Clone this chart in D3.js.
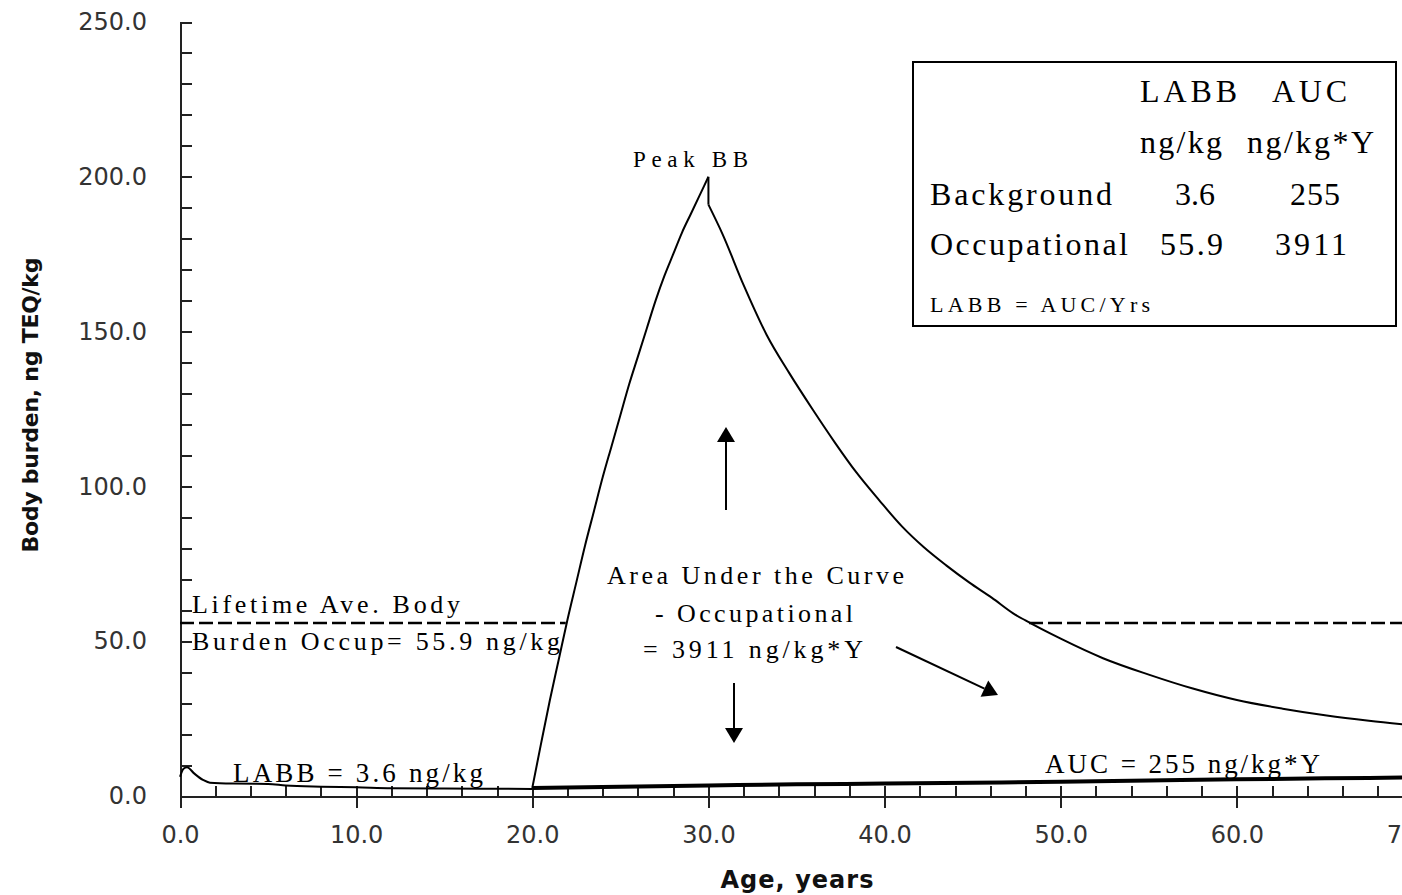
<!DOCTYPE html>
<html>
<head>
<meta charset="utf-8">
<script src="https://cdnjs.cloudflare.com/ajax/libs/d3/7.8.5/d3.min.js"></script>
<style>
  body { margin: 0; background: #fff; }
  .tick-label { font-family: "DejaVu Sans", sans-serif; font-size: 24px; fill: #333; }
  .axis-title { font-family: "DejaVu Sans", sans-serif; font-weight: bold; fill: #111; }
  .note { font-family: "Liberation Serif", serif; fill: #000; }
</style>
</head>
<body>
<div id="chart"></div>
<script>
'use strict';

// values
var ageTicks = [0, 10, 20, 30, 40, 50, 60, 70];
var burdenTicks = [0, 50, 100, 150, 200, 250];

var bgAge = [0, 0.2, 0.4, 0.8, 1.3, 1.7, 3, 5, 6, 8, 10, 12, 15, 20];
var bgBB = [6.2, 8.8, 9.3, 7.3, 5.2, 4.3, 4.0, 3.9, 3.4, 3.0, 2.8, 2.5, 2.4, 2.3];

var bgLateAge = [20, 25, 30, 35, 40, 45, 50, 55, 60, 65, 70];
var bgLateBB = [2.6, 3.0, 3.4, 3.8, 4.0, 4.3, 4.6, 5.0, 5.4, 5.7, 6.0];

// occupational exposure, age 20-30, then elimination
var occRiseAge = [20, 20.5, 21, 21.5, 22, 22.5, 23, 23.5, 24, 24.5, 25, 25.5, 26, 26.5, 27, 27.5, 28, 28.5, 29, 29.5, 30];
var occRiseBB = [2.6, 17, 31, 44, 57, 69, 81, 92, 103, 113, 123, 133, 142, 151, 160, 168, 175, 182, 188, 194, 200];
var occFallAge = [30, 30.8, 32, 33.3, 34.6, 35.9, 37.2, 38.4, 39.7, 41, 42.2, 43.5, 44.8, 46.1, 47.3, 48,
                  50, 52.4, 55, 57.5, 60, 62.6, 65.1, 67.5, 70];
var occFallBB = [191, 181.5, 165, 149, 136.5, 125, 114, 104.5, 95.5, 87, 80.5, 74.5, 69, 64, 59, 56.7,
                 50.8, 44.5, 39.2, 34.7, 31, 28.2, 26, 24.3, 22.8];

var labbOccup = 55.9;
var labbOccupAges = [[0, 21.9], [48.2, 70]];   // where the dashed line shows

var tableRows = ['Background', 'Occupational'];
var labbValues = ['3.6', '55.9'];
var aucValues = ['255', '3911'];

var width = 1402;
var height = 895;

var svg = d3.select('#chart')
    .append('svg')
    .attr('width', width)
    .attr('height', height);

var x = d3.scaleLinear().domain([0, 70]).range([180, 1413]);
var y = d3.scaleLinear().domain([0, 250]).range([796, 22]);

// ---- axes
var xAxis = svg.append('g')
    .attr('transform', 'translate(0,' + y(0) + ')')
    .call(d3.axisBottom(x)
        .tickValues(ageTicks)
        .tickSize(12)
        .tickSizeOuter(0)
        .tickFormat(d3.format('.1f')));
xAxis.selectAll('.tick line').attr('y1', -9);
xAxis.selectAll('.tick text')
    .attr('class', 'tick-label')
    .attr('y', 30);

svg.append('g')
    .attr('transform', 'translate(0,' + y(0) + ')')
    .call(d3.axisBottom(x)
        .tickValues(d3.range(0, 71, 2))
        .tickSize(-10)
        .tickFormat(''))
    .select('.domain').remove();

var yAxis = svg.append('g')
    .attr('transform', 'translate(' + x(0) + ',0)')
    .call(d3.axisLeft(y)
        .tickValues(burdenTicks)
        .tickSize(17)
        .tickSizeOuter(0)
        .tickPadding(16)
        .tickFormat(d3.format('.1f')));
yAxis.selectAll('.tick line').attr('x2', 12);
yAxis.selectAll('.tick text').attr('class', 'tick-label');

svg.append('g')
    .attr('transform', 'translate(' + x(0) + ',0)')
    .call(d3.axisLeft(y)
        .tickValues(d3.range(0, 251, 10))
        .tickSize(-12)
        .tickFormat(''))
    .select('.domain').remove();

svg.selectAll('.domain, .tick line')
    .attr('stroke', '#222')
    .attr('stroke-width', 2)
    .attr('shape-rendering', 'crispEdges');

svg.append('text')
    .attr('class', 'axis-title')
    .attr('x', 797)
    .attr('y', 888)
    .attr('text-anchor', 'middle')
    .attr('font-size', 24)
    .attr('textLength', 153)
    .text('Age, years');

svg.append('text')
    .attr('class', 'axis-title')
    .attr('transform', 'translate(38,405) rotate(-90)')
    .attr('text-anchor', 'middle')
    .attr('font-size', 22)
    .attr('textLength', 295)
    .text('Body burden, ng TEQ/kg');

// ---- lines
var line = d3.line()
    .x(function(d) { return x(d[0]); })
    .y(function(d) { return y(d[1]); })
    .curve(d3.curveMonotoneX);

svg.append('g')
    .selectAll('line')
    .data(labbOccupAges)
    .enter()
    .append('line')
    .attr('x1', function(d) { return x(d[0]); })
    .attr('x2', function(d) { return x(d[1]); })
    .attr('y1', Math.round(y(labbOccup)))
    .attr('y2', Math.round(y(labbOccup)))
    .attr('stroke', '#000')
    .attr('stroke-width', 2.5)
    .attr('stroke-dasharray', '14,5');

svg.append('path')
    .datum(d3.zip(bgAge, bgBB))
    .attr('d', line)
    .attr('fill', 'none')
    .attr('stroke', '#000')
    .attr('stroke-width', 2);

svg.append('path')
    .datum(d3.zip(bgLateAge, bgLateBB))
    .attr('d', line)
    .attr('fill', 'none')
    .attr('stroke', '#000')
    .attr('stroke-width', 4);

svg.append('path')
    .datum(d3.zip(occRiseAge, occRiseBB))
    .attr('d', line)
    .attr('fill', 'none')
    .attr('stroke', '#000')
    .attr('stroke-width', 2);

// the short drop right after exposure stops
svg.append('line')
    .attr('x1', x(occRiseAge[occRiseAge.length - 1]))
    .attr('y1', y(occRiseBB[occRiseBB.length - 1]))
    .attr('x2', x(occFallAge[0]))
    .attr('y2', y(occFallBB[0]))
    .attr('stroke', '#000')
    .attr('stroke-width', 2);

svg.append('path')
    .datum(d3.zip(occFallAge, occFallBB))
    .attr('d', line)
    .attr('fill', 'none')
    .attr('stroke', '#000')
    .attr('stroke-width', 2);

// ---- notes on the plot
var notes = [
    {t: 'Peak BB', x: 633, y: 167, s: 23, w: 115},
    {t: 'Lifetime Ave. Body', x: 192, y: 613, s: 26, w: 268},
    {t: 'Burden Occup= ' + labbOccup + ' ng/kg', x: 192, y: 650, s: 26, w: 368},
    {t: 'LABB = ' + labbValues[0] + ' ng/kg', x: 233, y: 782, s: 27, w: 250},
    {t: 'AUC = ' + aucValues[0] + ' ng/kg*Y', x: 1045, y: 773, s: 27, w: 275},
    {t: 'Area Under the Curve', x: 607, y: 584, s: 26, w: 297},
    {t: '- Occupational', x: 655, y: 622, s: 26, w: 198},
    {t: '= ' + aucValues[1] + ' ng/kg*Y', x: 643, y: 658, s: 26, w: 220}
];

svg.append('g')
    .selectAll('text')
    .data(notes)
    .enter()
    .append('text')
    .attr('class', 'note')
    .attr('x', function(d) { return d.x; })
    .attr('y', function(d) { return d.y; })
    .attr('font-size', function(d) { return d.s; })
    .attr('textLength', function(d) { return d.w; })
    .attr('lengthAdjust', 'spacing')
    .text(function(d) { return d.t; });

// arrows
function arrow(x1, y1, x2, y2) {
    var dx = x2 - x1, dy = y2 - y1;
    var len = Math.sqrt(dx * dx + dy * dy);
    var ux = dx / len, uy = dy / len;
    var hl = 15, hw = 9;
    var bx = x2 - ux * hl, by = y2 - uy * hl;
    svg.append('line')
        .attr('x1', x1).attr('y1', y1)
        .attr('x2', bx).attr('y2', by)
        .attr('stroke', '#000')
        .attr('stroke-width', 2);
    svg.append('path')
        .attr('d', 'M' + x2 + ',' + y2 +
                   'L' + (bx - uy * hw) + ',' + (by + ux * hw) +
                   'L' + (bx + uy * hw) + ',' + (by - ux * hw) + 'Z')
        .attr('fill', '#000');
}
arrow(726, 510, 726, 427);
arrow(734, 683, 734, 743);
arrow(896, 647, 998, 695);

// ---- table box
var box = svg.append('g');
box.append('rect')
    .attr('x', 913)
    .attr('y', 62)
    .attr('width', 483)
    .attr('height', 264)
    .attr('fill', '#fff')
    .attr('stroke', '#000')
    .attr('stroke-width', 2);

var cells = [
    {t: 'LABB', x: 1140, y: 102, w: 97},
    {t: 'AUC', x: 1272, y: 102, w: 75},
    {t: 'ng/kg', x: 1140, y: 153, w: 82},
    {t: 'ng/kg*Y', x: 1247, y: 153, w: 127}
];
var rowY = [205, 255];
var labbX = [1175, 1160], labbW = [40, 63];
var aucX = [1290, 1275], aucW = [50, 72];
var rowW = [182, 198];
tableRows.forEach(function(r, i) {
    cells.push({t: r, x: 930, y: rowY[i], w: rowW[i]});
    cells.push({t: labbValues[i], x: labbX[i], y: rowY[i], w: labbW[i]});
    cells.push({t: aucValues[i], x: aucX[i], y: rowY[i], w: aucW[i]});
});

box.selectAll('text.cell')
    .data(cells)
    .enter()
    .append('text')
    .attr('class', 'note cell')
    .attr('x', function(d) { return d.x; })
    .attr('y', function(d) { return d.y; })
    .attr('font-size', 32)
    .attr('textLength', function(d) { return d.w; })
    .attr('lengthAdjust', 'spacing')
    .text(function(d) { return d.t; });

box.append('text')
    .attr('class', 'note')
    .attr('x', 930)
    .attr('y', 312)
    .attr('font-size', 22)
    .attr('textLength', 220)
    .attr('lengthAdjust', 'spacing')
    .text('LABB = AUC/Yrs');
</script>
</body>
</html>
